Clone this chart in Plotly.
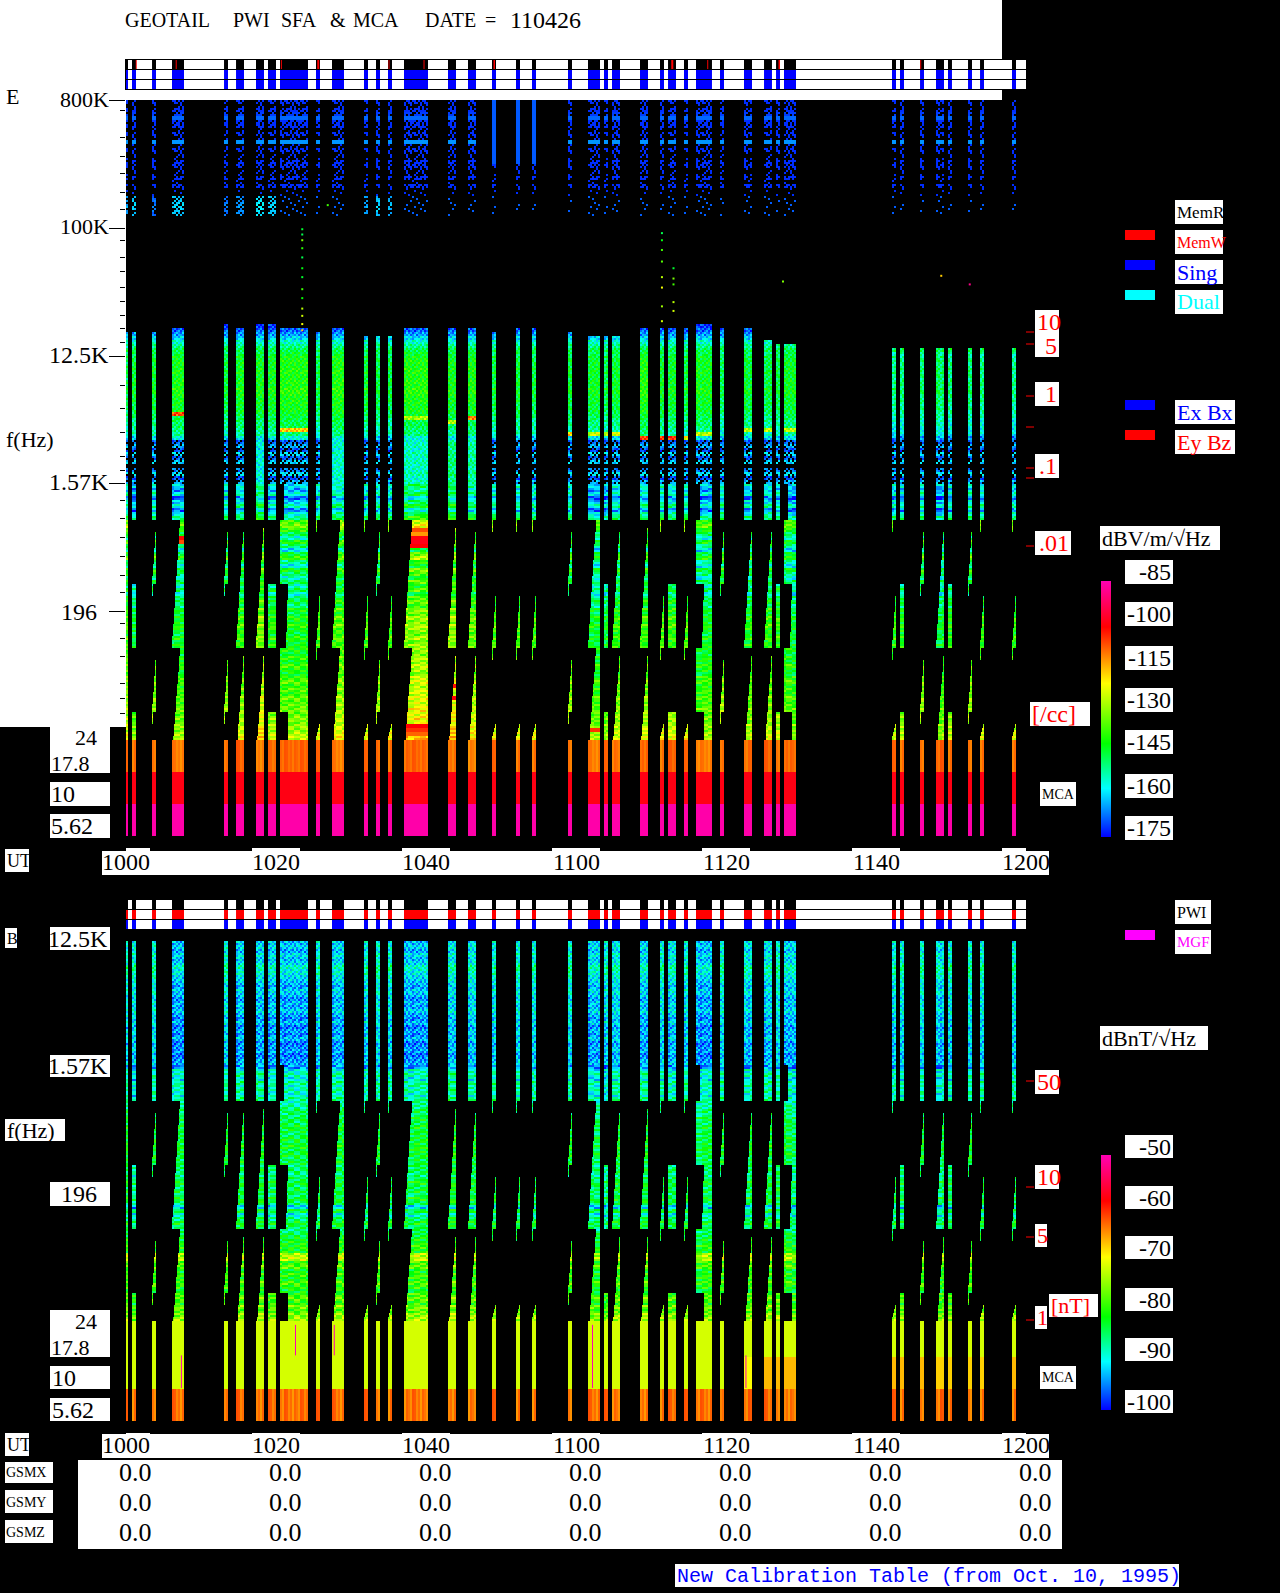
import numpy as np
import plotly.graph_objects as go

W, H = 1280, 1593
SERIF = "Liberation Serif"
MONO = "Liberation Mono"

# ---- observation segments (minutes after 10:00) ----
SEG_START = [0, .8, 3.47, 6.13, 13.07, 14.67, 17.33, 18.93, 20.53, 25.33, 27.47, 31.73, 33.33, 34.93,
             37.07, 42.93, 45.6, 48.8, 52.0, 54.13, 58.93, 61.6, 63.73, 64.8, 68.53, 71.2, 72.27, 74.4,
             76.0, 79.2, 82.4, 85.07, 86.67, 87.73, 102.13, 103.2, 105.87, 108.0, 109.6, 112.27, 113.87, 118.13]
SEG_END = [.27, 1.33, 4.0, 7.73, 13.6, 15.73, 18.4, 20.0, 24.27, 25.87, 29.07, 32.27, 33.87, 35.47,
           40.27, 44.0, 46.67, 49.33, 52.53, 54.67, 59.47, 63.2, 64.27, 65.87, 69.6, 71.73, 73.33, 74.93,
           78.13, 79.73, 83.47, 86.13, 87.2, 89.33, 102.67, 103.73, 106.4, 109.07, 110.13, 112.8, 114.4, 118.67]
SEG_TYPE = ["F", "C", "A", "W1", "A", "W1", "W1", "C", "W2", "B", "W1", "B", "A", "B",
            "W1", "W1", "W1", "B", "B", "B", "A", "W1", "C", "W1", "W1", "B", "C", "B",
            "W2", "A", "W1", "W1", "C", "W2", "B", "C", "A", "W1", "C", "A", "B", "B"]

# memory-read markers in the top status bar
E_RED_T = [1.3, 6.63, 20.65, 25.5, 35.0, 39.67, 49.0, 72.7, 77.5, 87.0, 105.9]
E_RED_W = [.13, .13, .13, .27, .13, .13, .2, .27, .13, .2, .13]

# ---- E spectrogram: band levels in dBV/m/sqrt(Hz), top to bottom ----
E_HF = [-175, None, -175, -174, -171, -175, -175, None, -175, None, -168, None, -175, None, None, -175, -175,
        None, None, -175, None, -175, None, None, -173, -172, -171, -172, -173, None] + [None] * 26
E_EDGE = [-175, -172, -168, -163, -158, -154, -150]
E_MID = [-148, -146, -145, -146, -144, -145, -146, -144, -145, -143, -144, -146, -145, -147, -146, -148, -149,
         -151, -151, -153, -153, -160]
E_SPK = [-174, -168, -175, -165, -174, -166, None, -172, -164, -175, -168]
E_Z7 = [-160, -165, -158, -170, -162, -155, -168, -158, -152]
E_Z8 = [-138, -134, -140, -148, -156, -142, -150, -160, -146, -140, -152, -158, -144, -150, -156, -148]
E_Z9 = [-155, -148, -158, -150, -146, -152, -143, -148, -141, -145, -140, -144, -147, -141, -146, -143]
E_Z10 = [-142, -146, -140, -144, -138, -142, -145, -139, -136, -141, -137, -140, -135, -138, -136, -134,
         -136, -133, -135, -131, -132, -129, -128]
E_MCA = [-113] * 8 + [-102.5] * 8 + [-89] * 8

# per-segment estimates for the E panel
E_TOP_ROW = [58, 58, 58, 57, 56, 57, 56, 56, 57, 58, 57, 59, 59, 59, 57, 57, 57, 58, 57, 57, 58, 59, 59, 59, 57, 57,
             57, 57, 56, 57, 57, 60, 61, 61, 62, 62, 62, 62, 62, 62, 62, 62]
E_MID_OFF = [-5, -3, -3, 0, -4, -1, -1, -1, 1, -4, 1, -2, -5, -4, 1, -1, 0, -3, -3, -4, -4, -2, -4, -3, 1, -2, -2,
             -3, -1, -6, -3, -4, -5, -2, -8, -8, -8, -6, -8, -8, -8, -9]
E_LOW_OFF = [3, -5, 2, -3, 2, 2, 8, 0, -2, 3, 4, 3, 3, 3, 10, 10, 6, 3, 3, 3, 3, -4, -3, 1, 2, 4, 2, 3, -3, 4, 0, 1,
             1, -3, 1, -1, 3, -3, 0, 3, 1, 1]
E_BLOB_OFF = [3, 6, 0, 6, 0, 2, 8, 6, None, None, None, 3, 6, 4] + [None] * 28
E_SPK_SOLID = [None, None, None, None, None, None, -160, None, None, None, -158, None, None, None, -157, -153, -155,
               None, None, None, None, None, None, None, None, None, None, None, None, None, None, None, None, None,
               None, None, None, None, None, None, None, None]
E_MCA_OFF = [0, 0, 0, -1, 0, 1, -1, 0, 1, 0, -1, 0, 1, 0, 1, 0, -1, 0, 0, 0, 0, -1, 0, 0, 1, 0, 1, 0, -1, 0, 0, 1,
             0, 1, 0, 0, 0, 1, 0, 0, 0, 0]
E_HF_SOLID_SEGS = [17, 18, 19]
# (segment, band row, level) for the strong narrow features
E_PATCH_SEG = [3, 3, 14, 14, 14, 14, 14, 14, 14, 14, 15, 15, 21, 16, 14, 8, 20, 21, 22, 23, 24, 25, 26, 27, 28, 30, 31, 33, 3, 15]
E_PATCH_ROW = [109, 110, 107, 108, 109, 110, 111, 156, 157, 158, 146, 149, 157, 79, 79, 82, 83, 83, 83, 83, 84, 84, 84, 84, 83, 82, 82, 82, 78, 80]
E_PATCH_DB = [-104, -110, -110, -116, -103, -102, -104, -104, -108, -112, -105, -104, -108, -115, -132, -120, -122,
              -128, -128, -128, -108, -108, -108, -125, -130, -130, -130, -130, -110, -130]

# isolated bright points between the two emission bands
SPOT_T = [23.5] * 13 + [71.46] * 8 + [73.0] * 5 + [26.9, 87.6, 108.7, 112.5]
SPOT_F = [98e3, 90e3, 82e3, 72e3, 62e3, 52e3, 45e3, 37e3, 32e3, 27e3, 24e3, 21e3, 19e3,
          92e3, 82e3, 70e3, 58e3, 45e3, 38e3, 28e3, 22e3,
          52e3, 44e3, 40e3, 30e3, 26e3, 145e3, 42e3, 46e3, 40e3]
SPOT_DB = [-148, -150, -135, -142, -150, -146, -148, -140, -145, -130, -128, -125, -120,
           -150, -146, -140, -138, -130, -125, -132, -128,
           -148, -135, -140, -130, -128, -140, -135, -120, -92]

# ---- B spectrogram: band levels in dBnT/sqrt(Hz) ----
B_HF = [-94, -93, -95, -92, -94, -93, -90, -91, -92, -93, -94, -95, -93, -94, -96, -94, -95, -93, -95, -96, -94, -97,
        -95, -96, -94, -97, -96, -95, -97, -96, -95, -97]
B_Z7 = [-92, -90, -93, -89, -91, -90, -92, -89]
B_Z8 = [-90, -89, -87, -88, -86, -87, -85, -86, -87, -85, -86, -84, -86, -85, -87, -86]
B_Z9 = [-88, -87, -89, -87, -85, -87, -86, -88, -85, -87, -94, -86, -92, -88, -85, -87]
B_Z10 = [-88, -86, -85, -84, -83, -84, -76, -75, -82, -80, -85, -82, -84, -81, -83, -85, -82, -80, -83, -79, -81, -78, -77]
B_MCA = [-74] * 17 + [-66] * 8
B_HF_OFF = [2, 2, 2, -1, 2, 0, 0, 0, -1, 2, 0, 2, 2, 2, -1, 1, 1, 2, 2, 2, 2, 0, 2, 1, 0, 2, 1, 2, -1, 2, 1, 1, 2, 0,
            2, 2, 2, 1, 2, 2, 2, 2]
B_LOW_OFF = [1, -2, 1, 0, 1, 1, 1, 0, 0, 1, 1, 1, 1, 1, 1, 2, 1, 1, 1, 1, 1, -1, -1, 1, 1, 1, 0, 1, 0, 1, 1, 1, 1, 0,
             1, 0, 1, 0, 0, 1, 1, 1]
B_MCA_MID_OFF = [0] * 30 + [2, 5, 5, 5, 5, 5, 5, 4, 4, 4, 4, 5]
B_LINE_T = [7.39, 22.6, 27.77, 62.2, 82.66]
B_LINE_HI = [14.2, 23.3, 23.3, 23.3, 14.2]
B_LINE_LO = [8.35, 14.2, 14.2, 8.35, 8.35]

# small hand-typed tile of dB departures standing in for the unreadable speckle of the spectrograms
SPECKLE = [[3, -2, 1, -4, 2, 0, -3, 4],
           [-1, 4, -3, 2, -2, 3, 1, -4],
           [2, -3, 0, 3, -4, 1, 4, -1],
           [-4, 1, 4, -2, 3, -3, 0, 2],
           [0, 3, -1, -3, 4, -2, 2, -4],
           [4, -4, 2, 1, -1, 3, -3, 0],
           [-2, 0, -4, 4, 1, -1, 3, -3],
           [1, 2, 3, -1, -3, 4, -2, -4]]

# ---- text content ----
E_MAJOR_F = [800e3, 100e3, 12.5e3, 1.57e3, 196]
E_MINOR_F = [680e3, 438e3, 322e3, 244e3, 179e3, 136e3, 81e3, 62e3, 49e3, 38e3, 30.5e3, 24e3, 19.4e3, 15.5e3, 7.8e3,
             5.3e3, 3.58e3, 2.46e3, 1.96e3, 1.2e3, 885, 660, 485, 351, 266, 163, 126, 95.5, 60.7, 48.3, 37.8]
TIME_MIN = [0, 20, 40, 60, 80, 100, 120]
TIME_LABELS = ["1000", "1020", "1040", "1100", "1120", "1140", "1200"]
GSM_NAMES = ["GSMX", "GSMY", "GSMZ"]
GSM_VALUES = ["0.0", "0.0", "0.0", "0.0", "0.0", "0.0", "0.0"]
COLORSCALE = [[0, "#0000ff"], [.19, "#00ffff"], [.365, "#00ff00"], [.60, "#ffff00"], [.82, "#ff0000"], [1, "#ff00b4"]]

# ---- sweep timing: per band group (first row, last row, lag at first, lag at last, max width) ----
SWEEP = {
    "F": [(96, 160, 0, 0, None)],
    "A": [(96, 105, 0, 0, None), (107, 121, .5, .02, None), (121, 124, 0, 0, .13), (139, 153, .5, .02, None), (153, 156, 0, 0, .13)],
    "B": [(96, 105, 0, 0, None), (105, 108, 0, 0, .13), (123, 137, .5, .02, None), (137, 140, 0, 0, .13), (155, 160, .5, .05, None)],
    "C": [(96, 105, 0, 0, None), (121, 137, 0, 0, None), (153, 160, 0, 0, None)],
    "W1": [(96, 105, 0, 0, None), (105, 137, 1.07, 0, None), (137, 160, 1.07, .2, None)],
    "W2": [(96, 105, .53, .53, None), (105, 121, 0, 0, None), (121, 137, 1.07, .8, None), (137, 153, 0, 0, None), (153, 160, 1.07, 1.07, None)],
}

# ---- grids ----
T_EDGES = np.linspace(0, 120, 901)
T_MID = (T_EDGES[:-1] + T_EDGES[1:]) / 2
OCT8_PER_PX = 8 ** (1 / 128)
SPARSE = -175.5  # marks a band where only a few speckles reach the plot


def window(seg, sweep_row):
    """time window of a segment in a band below 1.57 kHz, or None"""
    for r0, r1, l0, l1, wmax in SWEEP[SEG_TYPE[seg]]:
        if r0 <= sweep_row < r1:
            lag = l0 + (l1 - l0) * (sweep_row - r0) / max(r1 - r0 - 1, 1)
            a = SEG_START[seg] + lag
            b = SEG_END[seg] if wmax is None else min(SEG_END[seg], a + wmax)
            return a, b
    return None


def paint(z, seg, row, value, sweep_row=None):
    a, b = SEG_START[seg], SEG_END[seg]
    if sweep_row is not None:
        w = window(seg, sweep_row)
        if w is None:
            return
        a, b = w
    z[row, (T_MID >= a) & (T_MID < b)] = value


tile = np.array(SPECKLE)

e_rows = E_HF + E_EDGE + E_MID + E_SPK + E_Z7 + E_Z8 + E_Z9 + E_Z10 + E_MCA
ez = np.full((len(e_rows), T_MID.size), np.nan)
for s in range(len(SEG_START)):
    for r, v in enumerate(e_rows):
        val = v
        if r < 30:
            if 24 <= r <= 28:
                val = SPARSE if E_BLOB_OFF[s] is None else v + E_BLOB_OFF[s]
            elif s in E_HF_SOLID_SEGS and r < 16:
                val = -172
            elif v is None and r < 24:
                val = SPARSE
        elif r < 56:
            val = None
        elif r < 63:
            val = None if r < E_TOP_ROW[s] else v
        elif r < 85:
            val = v + E_MID_OFF[s]
        elif r < 96:
            if E_SPK_SOLID[s] is not None:
                val = E_SPK_SOLID[s] + (0 if v is None else (v + 170) * .3)
        elif r < 160:
            val = v + E_LOW_OFF[s]
        else:
            val = v + E_MCA_OFF[s] if r < 168 else v
        if val is None:
            continue
        if 96 <= r < 160:
            paint(ez, s, r, val, r)
        else:
            paint(ez, s, r, val)
protect = np.zeros_like(ez, dtype=bool)
for s, r, v in zip(E_PATCH_SEG, E_PATCH_ROW, E_PATCH_DB):
    paint(ez, s, r, v, r if 96 <= r < 160 else None)
    protect[r] = protect[r] | (ez[r] == v)

# fine grid: 2-px bands, speckle cells 2 px wide, low-frequency stripes 12 px wide
ez = np.repeat(ez, 2, axis=0)
protect = np.repeat(protect, 2, axis=0)
R2, C = np.indices(ez.shape)
R1 = R2 // 2
fine = tile[R2 % 8, (C // 2) % 8]
block = tile[R2 % 8, (C // 6) % 8]
hf_zone = R1 < 30
kill = hf_zone & (ez == SPARSE) & (((R1 < 19) & (fine < 3)) | ((R1 >= 19) & (fine < 4)))
kill |= hf_zone & (R1 < 24) & (ez != SPARSE) & (ez < -172.5) & (fine < -1)
kill |= hf_zone & (R1 >= 24) & (ez != SPARSE) & (fine < 0)
spk_zone = (R1 >= 85) & (R1 < 96)
kill |= spk_zone & (ez < -162) & (fine < -1)
ez[hf_zone & (ez == SPARSE)] = -175
ez = ez + np.where(hf_zone & (R1 >= 24), fine * .8, 0)
ez = ez + np.where(spk_zone, fine * 1.5, 0)
ez = ez + np.where((R1 >= 56) & (R1 < 85), fine * 1.5, 0)
ez = ez + np.where((R1 >= 96) & (R1 < 160) & ~protect, block * 1.5, 0)
ez = ez + np.where((R1 >= 160) & (R1 < 168), tile[0, (C // 2) % 8] * .4, 0)
ez[kill] = np.nan

b_rows = B_HF + B_Z7 + B_Z8 + B_Z9 + B_Z10 + B_MCA
bz = np.full((len(b_rows), T_MID.size), np.nan)
for s in range(len(SEG_START)):
    for r, v in enumerate(b_rows):
        if r < 31:
            paint(bz, s, r, v + B_HF_OFF[s])
        elif r < 95:
            paint(bz, s, r, v + B_LOW_OFF[s], r + 65)
        elif 104 <= r < 112:
            paint(bz, s, r, v + B_MCA_MID_OFF[s])
        else:
            paint(bz, s, r, v)
bz = np.repeat(bz, 2, axis=0)
R2, C = np.indices(bz.shape)
R1 = R2 // 2
fine = tile[R2 % 8, (C // 2) % 8]
block = tile[R2 % 8, (C // 6) % 8]
bz = bz + np.where(R1 < 31, fine * 1.0, 0)
bz = bz + np.where((R1 >= 31) & (R1 < 95), block * 1.0, 0)
bz = bz + np.where(R1 >= 112, tile[0, (C // 2) % 8] * .4, 0)

# frequency axes: 128 px per factor of 8
E_F_TOP = 800e3
E_F_BOT = E_F_TOP / OCT8_PER_PX ** 737
B_F_TOP = 12.5e3 / OCT8_PER_PX ** 3
B_F_BOT = B_F_TOP / OCT8_PER_PX ** 480
e_f = np.geomspace(E_F_TOP, E_F_TOP / OCT8_PER_PX ** 736, ez.shape[0] + 1)
b_f = np.geomspace(B_F_TOP, B_F_BOT, bz.shape[0] + 1)


def px(x):
    return x / W


def py(y):
    return 1 - y / H


fig = go.Figure()
fig.add_trace(go.Heatmap(x=T_EDGES, y=e_f, z=ez, zmin=-178, zmax=-88, colorscale=COLORSCALE, hoverinfo="skip",
                         xaxis="x", yaxis="y",
                         colorbar=dict(x=px(1101), xanchor="left", y=py(837), yanchor="bottom", thickness=10,
                                       thicknessmode="pixels", len=256, lenmode="pixels", xpad=0, ypad=0,
                                       outlinewidth=0, ticks="", showticklabels=False)))
fig.add_trace(go.Heatmap(x=T_EDGES, y=b_f, z=bz, zmin=-102, zmax=-52, colorscale=COLORSCALE, hoverinfo="skip",
                         xaxis="x2", yaxis="y2",
                         colorbar=dict(x=px(1101), xanchor="left", y=py(1410), yanchor="bottom", thickness=10,
                                       thicknessmode="pixels", len=255, lenmode="pixels", xpad=0, ypad=0,
                                       outlinewidth=0, ticks="", showticklabels=False)))
fig.add_trace(go.Scatter(x=SPOT_T, y=SPOT_F, mode="markers", xaxis="x", yaxis="y", hoverinfo="skip", showlegend=False,
                         marker=dict(symbol="square", size=2, color=SPOT_DB, cmin=-178, cmax=-88,
                                     colorscale=COLORSCALE, line_width=0)))
lx, ly = [], []
for t, hi, lo in zip(B_LINE_T, B_LINE_HI, B_LINE_LO):
    lx += [t, t, None]
    ly += [hi, lo, None]
fig.add_trace(go.Scatter(x=lx, y=ly, mode="lines", xaxis="x2", yaxis="y2", hoverinfo="skip", showlegend=False,
                         line=dict(color="#ff00b4", width=1)))

shapes = []


def box(x0, y0, x1, y1, color="white"):
    shapes.append(dict(type="rect", xref="paper", yref="paper", x0=px(x0), x1=px(x1), y0=py(y1), y1=py(y0),
                       fillcolor=color, line_width=0, layer="below"))


def hline(x0, x1, y, color="black"):
    shapes.append(dict(type="line", xref="paper", yref="paper", x0=px(x0), x1=px(x1), y0=py(y), y1=py(y),
                       line=dict(color=color, width=1), layer="above"))


def status(t0, t1, y0, y1, color):
    shapes.append(dict(type="rect", xref="x", yref="paper", x0=t0, x1=t1, y0=py(y1), y1=py(y0), fillcolor=color,
                       line_width=0, layer="above"))


# white paper areas
box(0, 0, 1002, 100)
box(0, 100, 126, 727)
box(50, 727, 110, 773)
box(50, 782, 110, 806)
box(50, 814, 110, 838)
box(5, 849, 29, 872)
box(102, 851, 1049, 875)
for m in TIME_MIN:
    shapes.append(dict(type="rect", xref="x", yref="paper", x0=m - 3.2, x1=m + 3.2, y0=py(875), y1=py(848),
                       fillcolor="white", line_width=0, layer="below"))
    shapes.append(dict(type="rect", xref="x", yref="paper", x0=m - 3.2, x1=m + 3.2, y0=py(1458), y1=py(1433),
                       fillcolor="white", line_width=0, layer="below"))
box(102, 1434, 1049, 1458)
box(78, 1460, 1062, 1549)
box(5, 1433, 29, 1456)
box(5, 1462, 53, 1483)
box(5, 1490, 53, 1513)
box(5, 1520, 53, 1543)
box(675, 1564, 1179, 1587)
# status bars
box(125, 59, 1026, 89)
box(128, 900, 1026, 929)
for a, b in zip(SEG_START, SEG_END):
    status(a, b, 59, 69, "black")
    status(a, b, 69, 89, "#0000ff")
    shapes.append(dict(type="rect", xref="x2", yref="paper", x0=a, x1=b, y0=py(909), y1=py(900), fillcolor="black",
                       line_width=0, layer="above"))
    shapes.append(dict(type="rect", xref="x2", yref="paper", x0=a, x1=b, y0=py(919), y1=py(909), fillcolor="#ff0000",
                       line_width=0, layer="above"))
    shapes.append(dict(type="rect", xref="x2", yref="paper", x0=a, x1=b, y0=py(929), y1=py(919), fillcolor="#0000ff",
                       line_width=0, layer="above"))
for t, w in zip(E_RED_T, E_RED_W):
    status(t, t + w, 59, 69, "#ff0000")
hline(125, 1026, 59.5)
hline(125, 1026, 69.5)
hline(125, 1026, 79.5)
hline(125, 1026, 89.5)
shapes.append(dict(type="line", xref="paper", yref="paper", x0=px(125.5), x1=px(125.5), y0=py(59), y1=py(89),
                   line=dict(color="black", width=1), layer="above"))
hline(126, 1026, 909.5)
hline(126, 1026, 919.5)
hline(78, 1062, 1459)
# right-hand legend swatches
for y0, c in [(230, "#ff0000"), (260, "#0000ff"), (290, "#00ffff"), (400, "#0000ff"), (430, "#ff0000"), (930, "#ff00ff")]:
    box(1125, y0, 1155, y0 + 10, c)
# red scale ticks
for y in [332, 344, 396, 427, 468, 478, 546, 1081, 1187, 1237, 1320]:
    hline(1026, 1034, y, "#ff0000")

ann = []


def text(x, y, s, color="black", size=24, anchor="left", family=SERIF, xref="paper"):
    ann.append(dict(x=px(x) if xref == "paper" else x, y=py(y), xref=xref, yref="paper", text=s, showarrow=False,
                    xanchor=anchor, yanchor="middle", borderpad=0, font=dict(family=family, size=size, color=color)))


def boxed(x0, y0, x1, y1, s, color="black", size=24, anchor="left"):
    box(x0, y0, x1, y1)
    tx = {"left": x0 + 1, "center": (x0 + x1) / 2, "right": x1 - 1}[anchor]
    text(tx, (y0 + y1) / 2, s, color, size, anchor)


# title pieces
for x, s, sz in [(124, "GEOTAIL", 20), (232, "PWI", 20), (280, "SFA", 20), (329, "&", 20), (352, "MCA", 20),
                 (424, "DATE", 20), (484, "=", 20), (509, "110426", 24)]:
    text(x, 20, s, "black", sz)
text(5, 97, "E", size=22)
text(110, 100, "800K", size=22, anchor="right")
text(110, 227, "100K", size=22, anchor="right")
for y, s in [(355, "12.5K"), (482, "1.57K")]:
    text(110, y, s, anchor="right")
text(98, 612, "196", anchor="right")
text(5, 439, "f(Hz)", size=22)
text(98, 738, "24", anchor="right", size=22)
text(50, 763, "17.8", size=22)
text(50, 794, "10")
text(50, 826, "5.62")
text(6, 861, "UT", size=18)
for m, s in zip(TIME_MIN, TIME_LABELS):
    text(m, 862, s, anchor="center", xref="x")
    text(m, 1445, s, anchor="center", xref="x")

boxed(1175, 200, 1223, 224, "MemR", size=17)
boxed(1175, 230, 1223, 254, "MemW", "#ff0000", 16)
boxed(1175, 260, 1223, 284, "Sing", "#0000ff", 22)
boxed(1175, 290, 1223, 314, "Dual", "#00ffff", 22)
boxed(1175, 400, 1235, 424, "Ex Bx", "#0000ff", 22)
boxed(1175, 430, 1235, 454, "Ey Bz", "#ff0000", 22)
box(1035, 310, 1059, 357)
text(1036, 322, "10", "#ff0000")
text(1058, 346, "5", "#ff0000", anchor="right")
boxed(1035, 382, 1059, 406, "1", "#ff0000", anchor="right")
boxed(1035, 454, 1059, 478, ".1", "#ff0000", anchor="right")
boxed(1035, 531, 1071, 555, ".01", "#ff0000", anchor="right")
boxed(1100, 526, 1220, 550, "dBV/m/√Hz", size=22)
for y0, s in [(560, "-85"), (602, "-100"), (646, "-115"), (688, "-130"), (730, "-145"), (774, "-160"), (816, "-175")]:
    boxed(1125, y0, 1173, y0 + 24, s, anchor="right")
boxed(1030, 702, 1090, 726, "[/cc]", "#ff0000")
boxed(1040, 782, 1076, 806, "MCA", size=14)

boxed(1175, 900, 1211, 924, "PWI", size=16)
boxed(1175, 930, 1211, 954, "MGF", "#ff00ff", 15)
boxed(1100, 1026, 1208, 1050, "dBnT/√Hz", size=22)
boxed(1035, 1070, 1059, 1094, "50", "#ff0000")
boxed(1035, 1165, 1059, 1189, "10", "#ff0000")
boxed(1035, 1224, 1047, 1247, "5", "#ff0000", size=22)
boxed(1035, 1306, 1047, 1329, "1", "#ff0000", size=22)
boxed(1049, 1294, 1098, 1317, "[nT]", "#ff0000", 22)
boxed(1040, 1366, 1076, 1389, "MCA", size=14)
for y0, s in [(1135, "-50"), (1186, "-60"), (1236, "-70"), (1288, "-80"), (1338, "-90"), (1390, "-100")]:
    boxed(1125, y0, 1173, y0 + 23, s, anchor="right")

boxed(5, 928, 17, 948, "B", size=16)
boxed(50, 927, 110, 950, "12.5K", anchor="right")
boxed(50, 1055, 110, 1077, "1.57K", anchor="right")
boxed(5, 1119, 65, 1141, "f(Hz)", size=22)
box(50, 1182, 110, 1206)
text(98, 1194, "196", anchor="right")
box(50, 1310, 110, 1357)
text(98, 1321, "24", anchor="right", size=22)
text(50, 1347, "17.8", size=22)
boxed(50, 1366, 110, 1389, "10")
boxed(50, 1398, 110, 1421, "5.62")
text(6, 1445, "UT", size=18)
for y, s in zip([1472, 1502, 1532], GSM_NAMES):
    text(5, y, s, size=14)
    for m, v in zip(TIME_MIN, GSM_VALUES):
        text(126 + 7.5 * (m + 1.27), y, v, anchor="center", size=26)
text(676, 1576, "New Calibration Table (from Oct. 10, 1995)", "#0000ff", 20, family=MONO)

fig.update_layout(
    width=W, height=H, autosize=False, margin=dict(l=0, r=0, t=0, b=0, pad=0, autoexpand=False),
    paper_bgcolor="black", plot_bgcolor="black", showlegend=False, shapes=shapes, annotations=ann,
    xaxis=dict(domain=[px(126), px(1026)], range=[0, 120], visible=False, anchor="y"),
    xaxis2=dict(domain=[px(126), px(1026)], range=[0, 120], visible=False, anchor="y2"),
    yaxis=dict(domain=[py(837), py(100)], type="log", range=[np.log10(E_F_BOT), np.log10(E_F_TOP)], anchor="x",
               showgrid=False, zeroline=False, showline=False, showticklabels=False, ticks="outside", ticklen=16,
               tickcolor="black", tickwidth=1, tickmode="array", tickvals=E_MAJOR_F,
               minor=dict(tickmode="array", tickvals=E_MINOR_F, ticks="outside", ticklen=5, tickcolor="black",
                          tickwidth=1, showgrid=False)),
    yaxis2=dict(domain=[py(1421), py(941)], type="log", range=[np.log10(B_F_BOT), np.log10(B_F_TOP)], anchor="x2",
                showgrid=False, zeroline=False, showline=False, showticklabels=False, ticks=""),
)
fig.write_html("out.html", config={"displayModeBar": False, "staticPlot": True},
               post_script="document.body.style.margin='0';document.body.style.overflow='hidden';window.dispatchEvent(new Event('resize'));")
